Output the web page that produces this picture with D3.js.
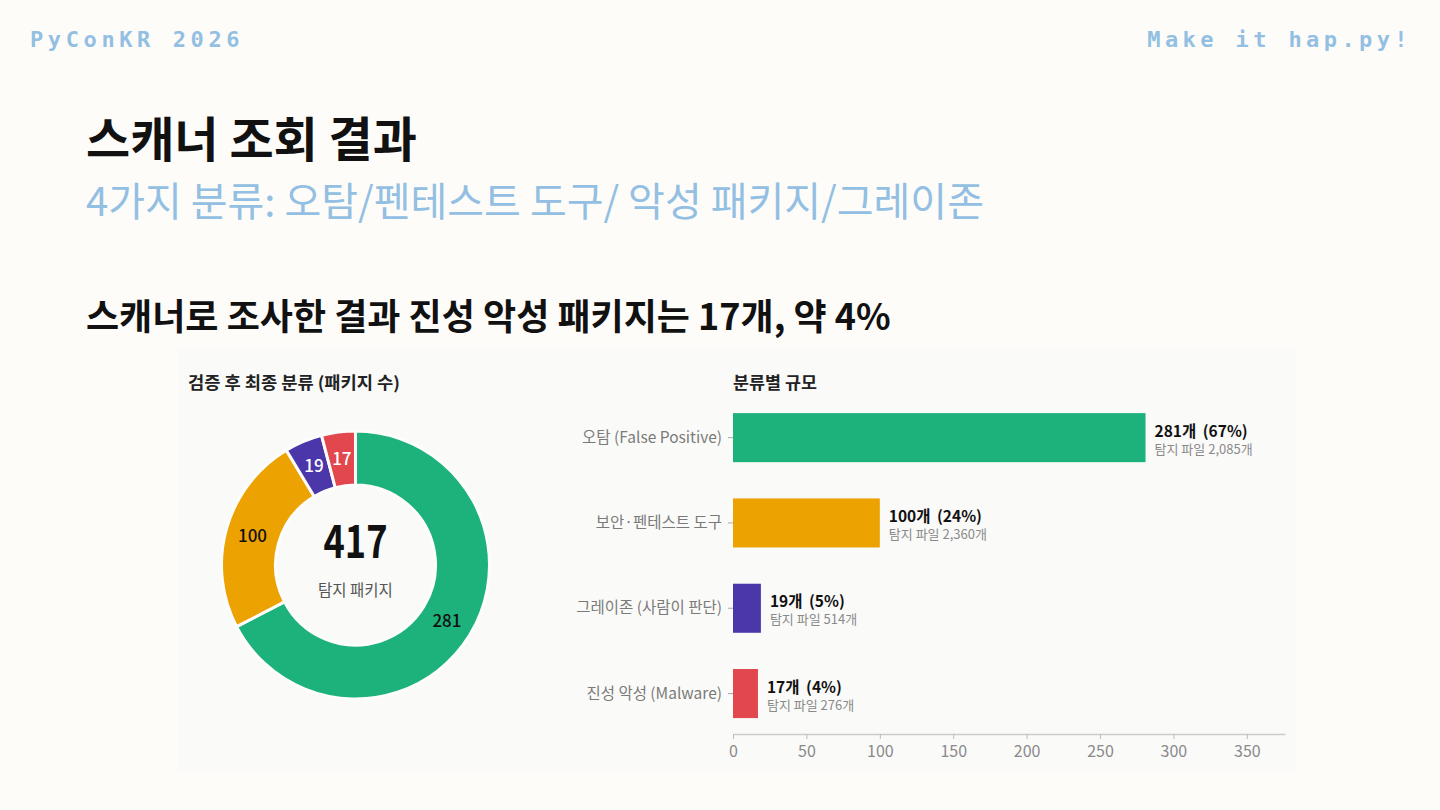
<!DOCTYPE html>
<html>
<head>
<meta charset="utf-8">
<script src="https://cdn.jsdelivr.net/npm/d3@7"></script>
<style>
  html, body { margin: 0; padding: 0; background: #fdfcf9; }
  svg { display: block; }
  text { font-family: "Noto Sans CJK KR", "Noto Sans", sans-serif; }
</style>
</head>
<body>
<svg id="chart" width="1440" height="810"></svg>
<script>
// ---- data ----
const categories = ["오탐 (False Positive)", "보안·펜테스트 도구", "그레이존 (사람이 판단)", "진성 악성 (Malware)"];
const packageCounts = [281, 100, 19, 17];
const percentLabels = ["67%", "24%", "5%", "4%"];
const fileCounts = [2085, 2360, 514, 276];
const categoryColors = ["#1db27b", "#eca200", "#4b37a9", "#e1474c"];
const donutLabelColors = ["#111", "#111", "#fff", "#fff"];
const xTickValues = [0, 50, 100, 150, 200, 250, 300, 350];

const svg = d3.select("#chart");

// ---- page header ----
svg.append("text").attr("x", 30).attr("y", 47)
  .attr("font-weight", "bold")
  .attr("font-size", 22).attr("letter-spacing", 4.6).attr("fill", "#93bfe2")
  .style("font-family", "'DejaVu Sans Mono', monospace")
  .text("PyConKR 2026");
svg.append("text").attr("x", 1412).attr("y", 47).attr("text-anchor", "end")
  .attr("font-weight", "bold")
  .attr("font-size", 22).attr("letter-spacing", 4.4).attr("fill", "#93bfe2")
  .style("font-family", "'DejaVu Sans Mono', monospace")
  .text("Make it hap.py!");

svg.append("text").attr("x", 86).attr("y", 157)
  .attr("font-size", 48).attr("font-weight", "bold").attr("fill", "#111")
  .text("스캐너 조회 결과");
svg.append("text").attr("x", 86).attr("y", 216)
  .attr("font-size", 40).attr("fill", "#93bfe2")
  .text("4가지 분류: 오탐/펜테스트 도구/ 악성 패키지/그레이존");
svg.append("text").attr("x", 86).attr("y", 330)
  .attr("font-size", 36).attr("font-weight", "bold").attr("fill", "#111")
  .text("스캐너로 조사한 결과 진성 악성 패키지는 17개, 약 4%");

// ---- panel background ----
svg.append("rect").attr("x", 178).attr("y", 349).attr("width", 1118).attr("height", 422)
  .attr("fill", "#fafaf9");

// ---- donut ----
const total = d3.sum(packageCounts);
const donutData = categories.map((c, i) => ({ name: c, value: packageCounts[i], color: categoryColors[i], lc: donutLabelColors[i] }));
const cx = 355.5, cy = 565, rOuter = 134, rInner = 80;

svg.append("text").attr("x", 188).attr("y", 389)
  .attr("font-size", 17).attr("font-weight", "bold").attr("fill", "#222")
  .attr("textLength", 212).attr("lengthAdjust", "spacingAndGlyphs")
  .text("검증 후 최종 분류 (패키지 수)");

const pie = d3.pie().sort(null).value(d => d.value);
const arc = d3.arc().innerRadius(rInner).outerRadius(rOuter);
const gD = svg.append("g").attr("transform", `translate(${cx},${cy})`);
const arcs = pie(donutData);
gD.selectAll("path").data(arcs).join("path")
  .attr("d", arc).attr("fill", d => d.data.color)
  .attr("stroke", "#fdfdfc").attr("stroke-width", 3);
gD.selectAll("text.v").data(arcs).join("text").attr("class", "v")
  .attr("transform", d => `translate(${arc.centroid(d)})`)
  .attr("text-anchor", "middle").attr("dy", "0.35em")
  .attr("font-size", 17).attr("font-weight", 500).attr("fill", d => d.data.lc)
  .text(d => d.data.value);
gD.append("text").attr("text-anchor", "middle").attr("y", -7)
  .attr("font-size", 46).attr("font-weight", "bold").attr("fill", "#111")
  .attr("textLength", 64).attr("lengthAdjust", "spacingAndGlyphs")
  .text(total);
gD.append("text").attr("text-anchor", "middle").attr("y", 31)
  .attr("font-size", 15.5).attr("fill", "#555")
  .text("탐지 패키지");

// ---- bar chart ----
const x0 = 733, x1 = 1285, yTop = 395, yAxis = 734;
svg.append("text").attr("x", 733).attr("y", 389)
  .attr("font-size", 17).attr("font-weight", "bold").attr("fill", "#222")
  .attr("textLength", 84).attr("lengthAdjust", "spacingAndGlyphs")
  .text("분류별 규모");

const x = d3.scaleLinear().domain([0, 376]).range([x0, x1]);
const y = d3.scaleBand().domain(categories).range([yTop, yTop + 4 * 85.3])
  .paddingInner(0.425).paddingOuter(0.2125);

const bars = categories.map((c, i) => ({ name: c, value: packageCounts[i], pct: percentLabels[i], files: fileCounts[i], color: categoryColors[i] }));

svg.selectAll("rect.bar").data(bars).join("rect").attr("class", "bar")
  .attr("x", x(0)).attr("y", d => y(d.name))
  .attr("width", d => x(d.value) - x(0)).attr("height", y.bandwidth())
  .attr("fill", d => d.color);

// y axis (labels + small ticks, no domain line)
const yAxisG = svg.append("g").attr("transform", `translate(${x0},0)`)
  .call(d3.axisLeft(y).tickSize(5).tickPadding(6));
yAxisG.select(".domain").remove();
yAxisG.selectAll(".tick line").attr("stroke", "#aaa");
yAxisG.selectAll(".tick text").attr("font-size", 15.5).attr("fill", "#7a7a7a")
  .style("font-family", "'Noto Sans CJK KR', sans-serif");

// value labels
const fmt = d3.format(",");
svg.selectAll("text.val").data(bars).join("text").attr("class", "val")
  .attr("x", d => x(d.value) + 9).attr("y", d => y(d.name) + y.bandwidth() / 2 - 1)
  .attr("font-size", 15.5).attr("font-weight", "bold").attr("fill", "#111")
  .attr("word-spacing", 3)
  .text(d => `${d.value}개 (${d.pct})`);
svg.selectAll("text.files").data(bars).join("text").attr("class", "files")
  .attr("x", d => x(d.value) + 9).attr("y", d => y(d.name) + y.bandwidth() / 2 + 16)
  .attr("font-size", 13).attr("fill", "#8a8a8a")
  .text(d => `탐지 파일 ${fmt(d.files)}개`);

// x axis
const xAxisG = svg.append("g").attr("transform", `translate(0,${yAxis})`)
  .call(d3.axisBottom(x).tickValues(xTickValues).tickSize(5).tickPadding(7).tickSizeOuter(0));
xAxisG.select(".domain").attr("stroke", "#ccc").attr("stroke-width", 1.5);
xAxisG.selectAll(".tick line").attr("stroke", "#bbb");
xAxisG.selectAll(".tick text").attr("font-size", 16).attr("fill", "#8a8a8a")
  .style("font-family", "'Noto Sans CJK KR', sans-serif");
</script>
</body>
</html>
